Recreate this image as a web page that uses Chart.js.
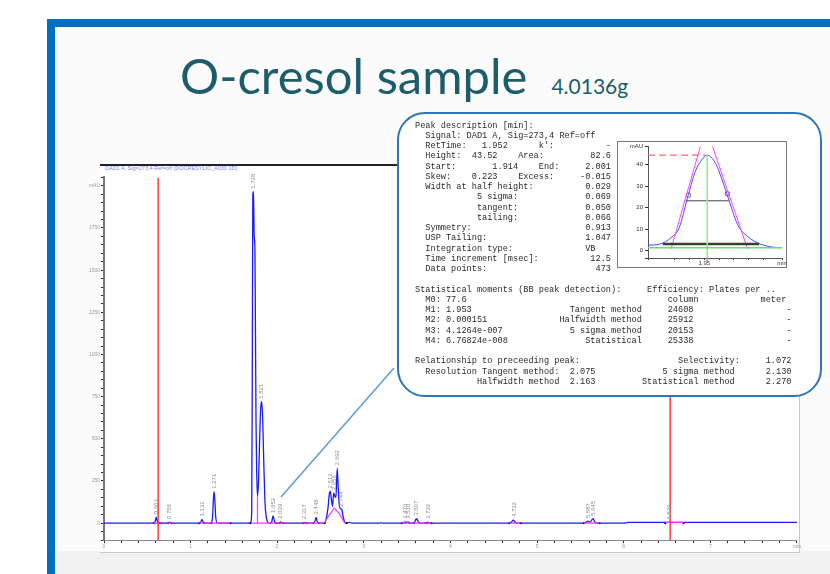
<!DOCTYPE html>
<html lang="en">
<head>
<meta charset="UTF-8">
<title>O-cresol sample</title>
<script src="https://cdn.jsdelivr.net/npm/chart.js@4.4.0/dist/chart.umd.min.js"></script>
<style>
  body { margin: 0; width: 830px; height: 574px; overflow: hidden; background: #fff; position: relative; font-family: "Liberation Sans", Arial, sans-serif; }
  .abs { position: absolute; }
  #frame { left: 47px; top: 19px; width: 800px; height: 600px; border-top: 8px solid #0070c0; border-left: 8px solid #0070c0; background: #fbfbfb; }
  #bottomBand { left: 55px; top: 551px; width: 775px; height: 23px; background: #f1f1f1; }
  #title { left: 180px; top: 51px; line-height: 1; color: #1d5c6b; font-family: Lato, "Open Sans", sans-serif; white-space: nowrap; }
  #title .big { font-size: 49px; }
  #title .small { font-size: 21px; margin-left: 24px; }
  #chromBox { left: 100px; top: 164px; width: 699px; height: 386px; background: #fff; border-top: 2px solid #222; border-right: 1px solid #c8c8c8; border-bottom: 1px solid #c8c8c8; }
  #chromHeader { left: 105px; top: 165px; font-size: 5.5px; color: #7f7fff; white-space: nowrap; }
  #mainCanvas { left: 86px; top: 163px; }
  #callout { left: 397px; top: 112px; width: 421px; height: 281px; border: 2px solid #2e75b6; border-radius: 28px; background: #fff; }
  #report { left: 415px; top: 120.6px; margin: 0; font-family: "Liberation Mono", "Courier New", monospace; font-size: 8.6px; line-height: 10.25px; color: #2a2a2a; }
  #insetBox { left: 617px; top: 141px; width: 168px; height: 125px; border: 1px solid #777; background: #fff; }
  #insetCanvas { left: 617px; top: 141px; }
</style>
</head>
<body>
<div id="frame" class="abs"></div>
<div id="bottomBand" class="abs"></div>
<div id="title" class="abs"><span class="big">O-cresol sample</span><span class="small">4.0136g</span></div>
<div id="chromBox" class="abs"></div>
<div id="chromHeader" class="abs">DAD1 A, Sig=273,4 Ref=off (DOCRESYLIC_A030 1D)</div>
<canvas id="mainCanvas" class="abs" width="716" height="390"></canvas>
<svg class="abs" style="left:0;top:0" width="830" height="574">
  <line x1="281" y1="497" x2="394" y2="368" stroke="#5b9bd5" stroke-width="1.5"/>
</svg>
<div id="callout" class="abs"></div>
<pre id="report" class="abs"></pre>
<div id="insetBox" class="abs"></div>
<canvas id="insetCanvas" class="abs" width="170" height="127"></canvas>

<script>
// ---- main chromatogram (time in min, signal in mAU) ----
const traceTime = [0.00, 0.30, 0.55, 0.585, 0.596, 0.603, 0.612, 0.625, 0.66,
  0.74, 0.752, 0.758, 0.766, 0.78,
  1.10, 1.118, 1.131, 1.142, 1.16,
  1.235, 1.252, 1.263, 1.271, 1.279, 1.29, 1.31,
  1.69, 1.705, 1.712, 1.718, 1.726, 1.734, 1.742, 1.748, 1.755, 1.763, 1.772,
  1.785, 1.798, 1.81, 1.821, 1.833, 1.845, 1.858, 1.872, 1.89, 1.91,
  1.935, 1.945, 1.952, 1.96, 1.972, 1.99,
  2.03, 2.039, 2.05, 2.07, 2.30, 2.317, 2.335,
  2.42, 2.438, 2.448, 2.458, 2.475,
  2.54, 2.565, 2.59, 2.60, 2.612, 2.625, 2.638, 2.652, 2.665, 2.678, 2.692,
  2.705, 2.718, 2.732, 2.746, 2.76, 2.78, 2.80, 2.83, 2.86,
  3.19, 3.20, 3.21, 3.45, 3.476, 3.49, 3.510, 3.53, 3.58, 3.607, 3.635, 3.66,
  3.725, 3.739, 3.755, 4.68, 4.705, 4.725, 4.745, 4.77,
  5.54, 5.565, 5.587, 5.61, 5.645, 5.67, 5.70, 6.00, 6.05, 8.00];
const traceMAU = [0, 0, 0, 3, 20, 35, 18, 3, 0,
  0, 4, 6, 3, 0,
  0, 6, 22, 8, 0,
  0, 30, 140, 186, 140, 35, 0,
  0, 60, 900, 1950, 1965, 1700, 1640, 1200, 600, 300, 160,
  260, 520, 690, 720, 600, 350, 130, 40, 5, 0,
  5, 30, 43, 28, 5, 0,
  2, 8, 2, 0, 0, 5, 0,
  0, 15, 34, 15, 0,
  0, 25, 110, 170, 188, 140, 100, 178, 160, 152, 326,
  200, 100, 85, 80, 40, 5, 0, 5, 0,
  0, 3, 0, 0, 8, 3, 8, 0, 2, 26, 3, 0,
  0, 6, 0, 0, 8, 18, 6, 0,
  0, 6, 12, 5, 26, 6, 0, 0, 4, 4];

// integration baseline segments (null = gap)
const baseTime = [0.57, 0.67, null, 0.73, 0.79, null, 1.10, 1.46, null, 1.70, 2.09, null,
  2.28, 2.52, null, 2.54, 2.60, 2.658, 2.715, 2.755, 2.78, null,
  3.44, 3.78, null, 4.68, 4.81, null, 5.54, 5.72, null, 6.48, 6.69, null,
  1.772, 1.772];
const baseMAU = [0, 0, null, 0, 0, null, 0, 0, null, 0, 0, null,
  0, 0, null, 0, 48, 89, 58, 22, 0, null,
  0, 0, null, 0, 0, null, 0, 0, null, 4, 4, null,
  0, 160];

const markerTime = [0.58, 0.66, 0.74, 0.78, 1.10, 1.16, 1.24, 1.46, 1.69, 1.99, 2.03, 2.07,
  2.30, 2.34, 2.42, 2.48, 2.55, 2.80, 3.44, 3.53, 3.58, 3.72, 3.78, 4.68, 4.81, 5.54, 5.72, 6.48, 6.69];

const peakRT = [0.603, 0.758, 1.131, 1.271, 1.728, 1.821, 1.952, 2.039, 2.317, 2.448,
  2.612, 2.656, 2.692, 2.744, 3.476, 3.510, 3.607, 3.739, 4.732, 5.587, 5.645, 6.529];
const peakTop = [35, 6, 22, 186, 1965, 720, 43, 8, 5, 34,
  188, 178, 326, 80, 8, 8, 26, 6, 18, 12, 26, 4];

const cutLines = [0.625, 6.536];

const yTickLabels = { 0: '0', 250: '250', 500: '500', 750: '750', 1000: '1000', 1250: '1250', 1500: '1500', 1750: '1750', 2000: 'mAU' };
const xTickLabels = { 0: '0', 1: '1', 2: '2', 3: '3', 4: '4', 5: '5', 6: '6', 7: '7', 8: 'min' };

// ---- peak detail inset (RT 1.952) ----
const insetTime = [1.912, 1.920, 1.9276, 1.933, 1.939, 1.944, 1.948, 1.952, 1.9565, 1.9594,
  1.9653, 1.9726, 1.979, 1.988, 1.997, 2.0025];
const insetMAU = [2.5, 3, 6, 10.5, 25.4, 37, 42, 44.5, 42, 38,
  26.4, 12, 6.7, 3, 1.5, 1.3];
const tangentLeft = { t: [1.9276, 1.9496], y: [0.8, 54] };
const tangentRight = { t: [1.9792, 1.9529], y: [0.8, 54] };
const apexRT = 1.952, apexMAU = 44.5;
const halfHeight = { t: [1.9376, 1.9666], y: 23.2 };
const sigmaLine = { t: [1.922, 1.987], y: 3 };
const inflection = { t: [1.9393, 1.9656], y: [25.8, 26.5] };
const insetBase = 1.3;

// ---- report text ----
function L(...parts) {
  let s = '';
  for (const [col, txt] of parts) s = s.padEnd(col) + txt;
  return s;
}
const R = (txt, end) => [end - txt.length, txt];
const reportLines = [
  L([0, 'Peak description [min]:']),
  L([2, 'Signal: DAD1 A, Sig=273,4 Ref=off']),
  L([2, 'RetTime:'], [13, '1.952'], [24, "k':"], R('-', 38)),
  L([2, 'Height:'], [11, '43.52'], [20, 'Area:'], R('82.6', 38)),
  L([2, 'Start:'], [15, '1.914'], [24, 'End:'], R('2.001', 38)),
  L([2, 'Skew:'], [11, '0.223'], [20, 'Excess:'], R('-0.015', 38)),
  L([2, 'Width at half height:'], R('0.029', 38)),
  L([12, '5 sigma:'], R('0.069', 38)),
  L([12, 'tangent:'], R('0.050', 38)),
  L([12, 'tailing:'], R('0.066', 38)),
  L([2, 'Symmetry:'], R('0.913', 38)),
  L([2, 'USP Tailing:'], R('1.047', 38)),
  L([2, 'Integration type:'], [33, 'VB']),
  L([2, 'Time increment [msec]:'], R('12.5', 38)),
  L([2, 'Data points:'], R('473', 38)),
  '',
  L([0, 'Statistical moments (BB peak detection):'], [45, 'Efficiency: Plates per ..']),
  L([2, 'M0:'], [6, '77.6'], [49, 'column'], [67, 'meter']),
  L([2, 'M1:'], [6, '1.953'], R('Tangent method', 44), [49, '24608'], R('-', 73)),
  L([2, 'M2:'], [6, '0.000151'], R('Halfwidth method', 44), [49, '25912'], R('-', 73)),
  L([2, 'M3:'], [6, '4.1264e-007'], R('5 sigma method', 44), [49, '20153'], R('-', 73)),
  L([2, 'M4:'], [6, '6.76824e-008'], R('Statistical', 44), [49, '25338'], R('-', 73)),
  '',
  L([0, 'Relationship to preceeding peak:'], R('Selectivity:', 63), [68, '1.072']),
  L([2, 'Resolution Tangent method:'], [30, '2.075'], R('5 sigma method', 62), [68, '2.130']),
  L(R('Halfwidth method', 28), [30, '2.163'], R('Statistical method', 62), [68, '2.270'])
];
document.getElementById('report').textContent = reportLines.join('\n');

const pts = (t, y) => t.map((v, i) => ({ x: v, y: Array.isArray(y) ? y[i] : y }));
const near = (v, k) => Math.abs(v - k) < 1e-6;

// split null-separated arrays into separate line segments
function segments(t, y) {
  const out = [];
  let cur = [];
  t.forEach((v, i) => {
    if (v === null) { if (cur.length) out.push(cur); cur = []; }
    else cur.push({ x: v, y: y[i] });
  });
  if (cur.length) out.push(cur);
  return out;
}

// main chart
const peakLabels = {
  id: 'peakLabels',
  afterDatasetsDraw(chart) {
    const { ctx, scales: { x, y } } = chart;
    ctx.save();
    ctx.fillStyle = '#8c8c8c';
    ctx.font = '6px "Liberation Sans"';
    ctx.textBaseline = 'middle';
    peakRT.forEach((rt, i) => {
      ctx.save();
      ctx.translate(x.getPixelForValue(rt), y.getPixelForValue(peakTop[i]) - 3);
      ctx.rotate(-Math.PI / 2);
      ctx.fillText(rt.toFixed(3), 0, 0);
      ctx.restore();
    });
    ctx.restore();
  }
};

new Chart(document.getElementById('mainCanvas'), {
  type: 'scatter',
  data: {
    datasets: [
      ...cutLines.map(t => ({
        data: [{ x: t, y: -100 }, { x: t, y: 2050 }],
        showLine: true, borderColor: '#ff2020', borderWidth: 1.3, pointRadius: 0, order: 0
      })),
      ...segments(baseTime, baseMAU).map(s => ({
        data: s, showLine: true, borderColor: '#ff33ff', borderWidth: 1.2, pointRadius: 0, order: 1
      })),
      {
        data: markerTime.map(t => ({ x: t, y: 0 })), pointRadius: 1, pointBackgroundColor: '#000',
        pointBorderWidth: 0, order: 1
      },
      {
        data: pts(traceTime, traceMAU), showLine: true, borderColor: '#1a1aff',
        borderWidth: 1.3, pointRadius: 0, cubicInterpolationMode: 'monotone', order: 2
      }
    ]
  },
  options: {
    responsive: false,
    animation: false,
    devicePixelRatio: 1,
    layout: { padding: { top: 14.4, right: 3 } },
    plugins: { legend: { display: false }, tooltip: { enabled: false } },
    scales: {
      x: {
        type: 'linear', min: 0, max: 8,
        afterFit: s => { s.height = 13; },
        border: { color: '#8a8a8a', width: 1 },
        grid: { drawOnChartArea: false, tickLength: 3, color: '#222' },
        ticks: {
          stepSize: 0.2, autoSkip: false, maxRotation: 0, padding: 1,
          color: '#999', font: { size: 5 },
          callback: v => { for (const k in xTickLabels) if (near(v, +k)) return xTickLabels[k]; return ''; }
        }
      },
      y: {
        min: -100, max: 2050,
        afterFit: s => { s.width = 18; },
        border: { color: '#777', width: 2 },
        grid: { drawOnChartArea: false, tickLength: 3, color: '#222' },
        ticks: {
          stepSize: 50, autoSkip: false, padding: 1,
          color: '#999', font: { size: 5 },
          callback: v => yTickLabels[v] || ''
        }
      }
    }
  },
  plugins: [peakLabels]
});

// inset chart
const apexTick = {
  id: 'apexTick',
  afterDraw(chart) {
    const { ctx, chartArea, scales: { x } } = chart;
    const px = x.getPixelForValue(apexRT);
    ctx.save();
    ctx.strokeStyle = '#ff6060';
    ctx.lineWidth = 1.2;
    ctx.beginPath();
    ctx.moveTo(px, chartArea.bottom);
    ctx.lineTo(px, chartArea.bottom + 5);
    ctx.stroke();
    ctx.restore();
  }
};
const seg = (t, y, color, width, extra) => Object.assign({
  data: pts(t, y), showLine: true, borderColor: color, borderWidth: width, pointRadius: 0
}, extra || {});

new Chart(document.getElementById('insetCanvas'), {
  type: 'scatter',
  data: {
    datasets: [
      seg([1.912, 2.0025], insetBase, '#66e066', 1.6),
      seg([apexRT, apexRT], [-3.5, apexMAU], '#8cf08c', 1.6),
      seg(sigmaLine.t, sigmaLine.y, '#34402c', 2.5),
      seg(halfHeight.t, halfHeight.y, '#444', 1),
      seg([1.912, apexRT - 0.001], apexMAU, '#ff6a6a', 1.2, { borderDash: [7, 4] }),
      seg(tangentLeft.t, tangentLeft.y, '#ff40ff', 1),
      seg(tangentRight.t, tangentRight.y, '#ff40ff', 1),
      seg(insetTime, insetMAU, '#4a4aff', 1, { cubicInterpolationMode: 'monotone' }),
      {
        data: pts(inflection.t, inflection.y), pointRadius: 2.3, pointBorderColor: '#666',
        pointBackgroundColor: 'rgba(0,0,0,0)', pointBorderWidth: 1
      }
    ]
  },
  options: {
    responsive: false,
    animation: false,
    devicePixelRatio: 1,
    layout: { padding: { top: 1, right: 2 } },
    plugins: { legend: { display: false }, tooltip: { enabled: false } },
    scales: {
      x: {
        type: 'linear', min: 1.912, max: 2.0025,
        afterFit: s => { s.height = 10; },
        border: { color: '#555', width: 1 },
        grid: { drawOnChartArea: false, tickLength: 2, color: '#333' },
        ticks: {
          stepSize: 0.01, autoSkip: false, maxRotation: 0, padding: 0,
          color: '#333', font: { size: 6 },
          callback: v => near(v, 1.95) ? '1.95' : v > 1.995 ? 'min' : ''
        }
      },
      y: {
        min: -3.5, max: 48.5,
        afterFit: s => { s.width = 31; },
        border: { color: '#555', width: 1 },
        grid: { drawOnChartArea: false, tickLength: 3, color: '#333' },
        ticks: {
          stepSize: 10, autoSkip: false, padding: 2,
          color: '#333', font: { size: 6 },
          callback: v => v > 45 ? 'mAU' : (v >= 0 && near(v % 10, 0) ? String(v) : '')
        }
      }
    }
  },
  plugins: [apexTick]
});
</script>
</body>
</html>
